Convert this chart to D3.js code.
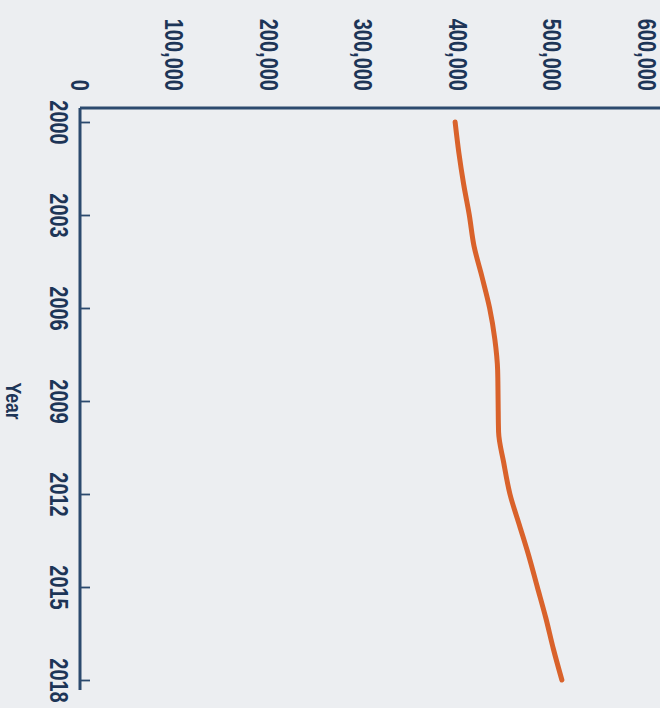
<!DOCTYPE html>
<html>
<head>
<meta charset="utf-8">
<script src="https://cdn.jsdelivr.net/npm/d3@7"></script>
<style>
  html, body { margin: 0; padding: 0; background: #eceef1; }
  svg { display: block; }
  text { font-family: "Liberation Sans", Arial, sans-serif; font-weight: bold; fill: #1d3557; }
</style>
</head>
<body>
<svg id="chart" width="660" height="708"></svg>
<script>
// Data
const years = [2000, 2001, 2002, 2003, 2004, 2005, 2006, 2007, 2008, 2009,
               2010, 2011, 2012, 2013, 2014, 2015, 2016, 2017, 2018];
const values = [398000, 402000, 407000, 413000, 418000, 426500, 434500, 440000, 443000, 443500,
                444000, 449500, 456000, 466000, 476000, 485000, 494000, 502000, 511000];
const yearTicks = [2000, 2003, 2006, 2009, 2012, 2015, 2018];
const valueTicks = [0, 100000, 200000, 300000, 400000, 500000, 600000];
const axisTitle = "Year";

const svg = d3.select("#chart");

// Chart drawn rotated 90° clockwise: years run down the left, values run across the top.
const yYear = d3.scaleLinear().domain([2000, 2018]).range([122, 680]);
const xVal = d3.scaleLinear().domain([0, 600000]).range([79, 646]);

const axisColor = "#2c4a6e";
const originX = 80, originY = 108;
const narrow = "scale(0.8,1)";

// value axis (top)
const gv = svg.append("g").attr("transform", `translate(0,${originY})`)
  .call(d3.axisTop(xVal).tickValues(valueTicks).tickSize(0).tickFormat(d3.format(",")));
gv.select(".domain").remove();
gv.selectAll(".tick text")
  .attr("x", 0).attr("y", 0).attr("dy", "0.35em")
  .attr("text-anchor", "end")
  .attr("transform", `translate(0,-17) rotate(90) ${narrow}`)
  .style("font-size", "25px");

// year axis (left)
const gy = svg.append("g").attr("transform", `translate(${originX},0)`)
  .call(d3.axisLeft(yYear).tickValues(yearTicks).tickSize(-10).tickFormat(d3.format("d")));
gy.select(".domain").remove();
gy.selectAll(".tick line").attr("stroke", axisColor).attr("stroke-width", 1.8);
gy.selectAll(".tick text")
  .attr("x", 0).attr("y", 0).attr("dy", "0.35em")
  .attr("text-anchor", "middle")
  .attr("transform", `translate(-21,0) rotate(90) ${narrow}`)
  .style("font-size", "25px");

// axis lines
svg.append("line")
  .attr("x1", originX).attr("x2", 660).attr("y1", originY).attr("y2", originY)
  .attr("stroke", axisColor).attr("stroke-width", 3);
svg.append("line")
  .attr("x1", originX).attr("x2", originX).attr("y1", originY).attr("y2", 690)
  .attr("stroke", axisColor).attr("stroke-width", 3);

// axis title
svg.append("text")
  .attr("transform", `translate(14,${(yYear(2000) + yYear(2018)) / 2}) rotate(90) ${narrow}`)
  .attr("text-anchor", "middle").attr("dy", "0.35em")
  .style("font-size", "22px")
  .text(axisTitle);

// series line
const line = d3.line()
  .y((d, i) => yYear(years[i]))
  .x(d => xVal(d))
  .curve(d3.curveMonotoneY);

svg.append("path")
  .datum(values)
  .attr("fill", "none")
  .attr("stroke", "#d9622b")
  .attr("stroke-width", 5)
  .attr("stroke-linecap", "round")
  .attr("stroke-linejoin", "round")
  .attr("d", line);
</script>
</body>
</html>
